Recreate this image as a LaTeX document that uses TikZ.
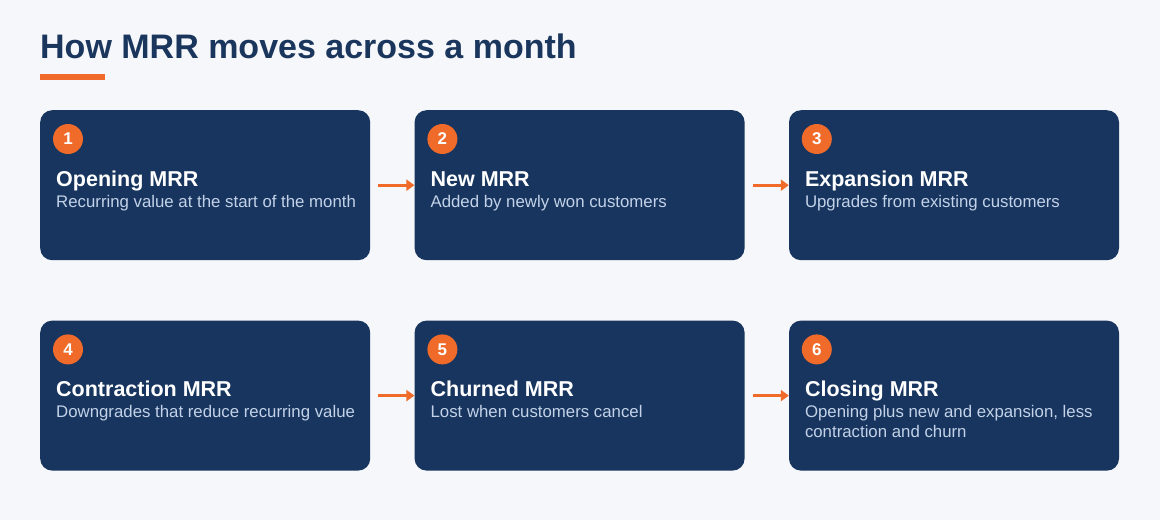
\documentclass[tikz,border=0pt]{standalone}
\usepackage{fontspec}
\setmainfont{Liberation Sans}
\usetikzlibrary{arrows.meta,positioning}

\definecolor{navy}{HTML}{17355E}
\definecolor{titleblue}{HTML}{1B365D}
\definecolor{accent}{HTML}{F06A2A}
\definecolor{pagebg}{HTML}{F5F7FA}
\definecolor{subtext}{HTML}{C3D2E8}

\begin{document}
\begin{tikzpicture}[
  x=1pt, y=-1pt,
  >={Triangle[length=8pt,width=11pt]},
  card/.style={fill=navy, rounded corners=12pt, minimum width=330pt, minimum height=150pt, inner sep=0pt},
  badge/.style={circle, fill=accent, minimum size=30pt, inner sep=0pt, text=white, font=\fontsize{17}{17}\selectfont\bfseries},
  head/.style={anchor=base west, text=white, inner sep=0pt, font=\fontsize{21.5}{21.5}\selectfont\bfseries},
  desc/.style={anchor=north west, text=subtext, inner sep=0pt, align=left, font=\fontsize{16.8}{20}\selectfont},
  flow/.style={->, draw=accent, fill=accent, line width=3pt}
]
\fill[pagebg] (0,0) rectangle (1160,520);

\node[anchor=base west, text=titleblue, inner sep=0pt, font=\fontsize{34}{34}\selectfont\bfseries] (title) at (40,58) {How MRR moves across a month};
\node[fill=accent, anchor=north west, minimum width=65pt, minimum height=6pt, inner sep=0pt] (bar) at (40,74) {};

\node[card, anchor=north west] (open) at (40,110) {};
\node[card, right=44pt of open] (new) {};
\node[card, right=44pt of new] (expand) {};
\node[card, below=60pt of open] (contract) {};
\node[card, right=44pt of contract] (churn) {};
\node[card, right=44pt of churn] (close) {};

\foreach \card/\num/\head/\desc in {
  open/1/Opening MRR/Recurring value at the start of the month,
  new/2/New MRR/Added by newly won customers,
  expand/3/Expansion MRR/Upgrades from existing customers,
  contract/4/Contraction MRR/Downgrades that reduce recurring value,
  churn/5/Churned MRR/Lost when customers cancel,
  close/6/Closing MRR/{Opening plus new and expansion, less\\contraction and churn}} {
  \node[badge] (\card-num) at ([xshift=28pt,yshift=-29pt]\card.north west) {\num};
  \node[head] (\card-head) at ([xshift=16pt,yshift=-76pt]\card.north west) {\head};
  \node[desc] (\card-desc) at ([xshift=16pt,yshift=-83pt]\card.north west) {\strut\desc};
}

\draw[flow] ([xshift=8pt]open.east) -- (new.west);
\draw[flow] ([xshift=8pt]new.east) -- (expand.west);
\draw[flow] ([xshift=8pt]contract.east) -- (churn.west);
\draw[flow] ([xshift=8pt]churn.east) -- (close.west);
\end{tikzpicture}
\end{document}
